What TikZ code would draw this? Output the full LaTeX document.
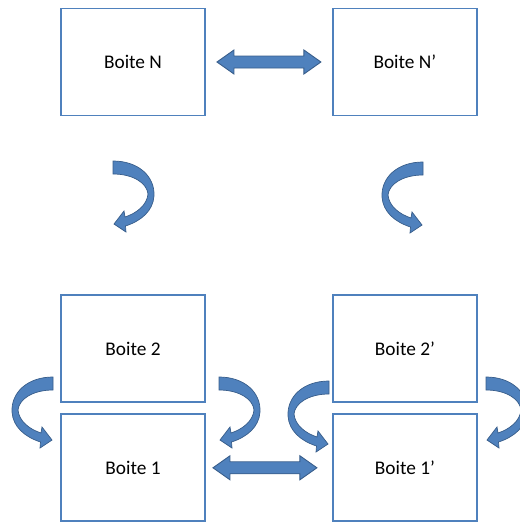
\documentclass[tikz,border=0pt]{standalone}
\usepackage{fontspec}
\setmainfont{Carlito}
\usetikzlibrary{positioning,calc}
\definecolor{boxline}{RGB}{79,129,189}
\definecolor{arrowfill}{RGB}{79,129,189}
\definecolor{arrowline}{RGB}{56,93,138}

\begin{document}
\begin{tikzpicture}[
    x=0.02cm, y=-0.02cm,
    node distance=3.56cm and 2.52cm,
    boite/.style={draw=boxline, line width=1.1pt, minimum width=2.88cm, minimum height=2.14cm, font=\fontsize{11}{13}\selectfont},
    dblarrow/.style={fill=arrowfill, draw=arrowline, line width=0.5pt, to path={
        ($(\tikztostart)+(11,0)$) -- ++(17,-12) -- ++(0,6)
        -- ($(\tikztotarget)+(-28,-6)$) -- ++(0,-6)
        -- ($(\tikztotarget)+(-11,0)$) -- ++(-17,12) -- ++(0,-6)
        -- ($(\tikztostart)+(28,6)$) -- ++(0,6) -- cycle}},
    curvarrow/.pic={
        \filldraw[fill=arrowfill, draw=arrowline, line width=0.4pt]
            (0,0) .. controls (25,0) and (42,15) .. (41,35)
            .. controls (40,50) and (28,60) .. (12.5,65)
            -- (13,71) -- (1,63) -- (11,50) -- (12,56)
            .. controls (24,52) and (34,44) .. (35,33)
            .. controls (34,22) and (20,13) .. (0,13) -- cycle;
    }
]
\useasboundingbox (0,0) rectangle (520,524);
\clip (0,0) rectangle (520,524);

\node[boite] (N) at (133,62) {Boite N};
\node[boite, right=of N] (Np) {Boite N’};
\node[boite, below=of N] (B2) {Boite 2};
\node[boite, below=0.2cm of B2] (B1) {Boite 1};
\node[boite, below=of Np] (B2p) {Boite 2’};
\node[boite, below=0.2cm of B2p] (B1p) {Boite 1’};

% double arrows between the boxes
\draw[dblarrow] (N.east) to (Np.west);
\draw[dblarrow] ($(B1.east)+(-4,0)$) to ($(B1p.west)+(-4,0)$);

% curved arrows
\pic at (113,161) {curvarrow};
\pic[xscale=-1] at (423,162) {curvarrow};
\pic[xscale=-1] at (53,377) {curvarrow};
\pic at (219,377) {curvarrow};
\pic[xscale=-1] at (329,381) {curvarrow};
\pic at (486,377) {curvarrow};
\end{tikzpicture}
\end{document}
